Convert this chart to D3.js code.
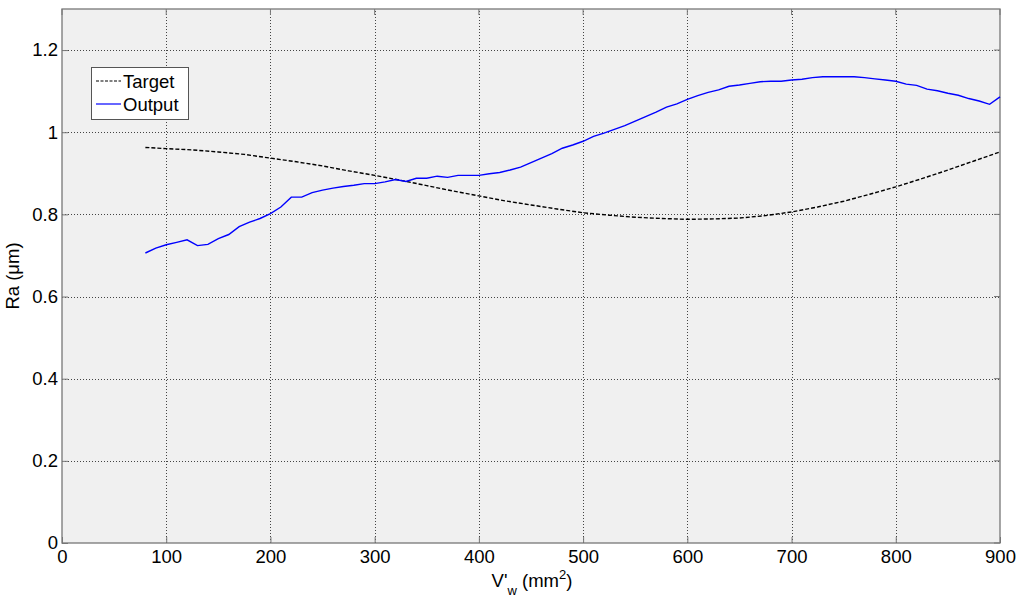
<!DOCTYPE html>
<html>
<head>
<meta charset="utf-8">
<script src="https://cdn.jsdelivr.net/npm/d3@7"></script>
<style>
  body { margin: 0; background: #fff; }
  text { font-family: "Liberation Sans", Arial, sans-serif; fill: #000; }
</style>
</head>
<body>
<div id="chart"></div>
<script>
// Data
const targetX = [80, 100, 125, 150, 175, 200, 225, 250, 275, 300, 325, 350, 375, 400, 425, 450, 475, 500,
  525, 550, 575, 600, 625, 650, 675, 700, 725, 750, 775, 800, 825, 850, 875, 900];
const targetY = [0.963, 0.960, 0.957, 0.952, 0.946, 0.937, 0.928, 0.918, 0.906, 0.895, 0.883, 0.870, 0.857,
  0.845, 0.833, 0.823, 0.813, 0.804, 0.798, 0.793, 0.790, 0.788, 0.789, 0.791, 0.797, 0.806, 0.818, 0.832,
  0.849, 0.867, 0.887, 0.908, 0.930, 0.952];

const outputX = d3.range(80, 901, 10);
const outputY = [0.706, 0.718, 0.726, 0.732, 0.738, 0.724, 0.727, 0.741, 0.751, 0.770, 0.781, 0.790, 0.802,
  0.818, 0.842, 0.842, 0.853, 0.859, 0.864, 0.868, 0.871, 0.875, 0.875, 0.879, 0.885, 0.880, 0.888, 0.888,
  0.893, 0.890, 0.895, 0.895, 0.895, 0.899, 0.902, 0.908, 0.915, 0.926, 0.937, 0.948, 0.961, 0.969, 0.978,
  0.990, 0.998, 1.007, 1.016, 1.027, 1.038, 1.049, 1.061, 1.069, 1.080, 1.089, 1.097, 1.103, 1.112, 1.115,
  1.119, 1.123, 1.124, 1.124, 1.127, 1.129, 1.133, 1.135, 1.135, 1.135, 1.135, 1.133, 1.130, 1.127, 1.124,
  1.117, 1.114, 1.105, 1.101, 1.095, 1.090, 1.082, 1.076, 1.068, 1.086];

const xTicks = [0, 100, 200, 300, 400, 500, 600, 700, 800, 900];
const yTicks = [0, 0.2, 0.4, 0.6, 0.8, 1, 1.2];
const seriesNames = ['Target', 'Output'];

const width = 1024, height = 608;
const margin = {top: 9, right: 24, bottom: 65, left: 62};
const fontSize = '18.5px';

const svg = d3.select('#chart').append('svg')
  .attr('width', width)
  .attr('height', height);

const x = d3.scaleLinear().domain([0, 900]).range([margin.left, width - margin.right]);
const y = d3.scaleLinear().domain([0, 1.3]).range([height - margin.bottom, margin.top]);

// Axes background
svg.append('rect')
  .attr('x', x(0)).attr('y', y(1.3))
  .attr('width', x(900) - x(0)).attr('height', y(0) - y(1.3))
  .attr('fill', '#f0f0f0');

// Grid
const grid = svg.append('g').attr('class', 'grid')
  .attr('stroke', '#444').attr('stroke-width', 1).attr('stroke-dasharray', '1,2');
grid.selectAll('.gx').data(xTicks.slice(1, -1)).join('line')
  .attr('x1', d => Math.round(x(d)) + 0.5).attr('x2', d => Math.round(x(d)) + 0.5)
  .attr('y1', y(0)).attr('y2', y(1.3));
grid.selectAll('.gy').data(yTicks.slice(1)).join('line')
  .attr('x1', x(0)).attr('x2', x(900))
  .attr('y1', d => Math.round(y(d)) + 0.5).attr('y2', d => Math.round(y(d)) + 0.5);

// Axes with inward ticks
const xAxis = svg.append('g')
  .attr('transform', `translate(0,${y(0)})`)
  .call(d3.axisBottom(x).tickValues(xTicks).tickSizeInner(-6).tickSizeOuter(0).tickPadding(7));
const yAxis = svg.append('g')
  .attr('transform', `translate(${x(0)},0)`)
  .call(d3.axisLeft(y).tickValues(yTicks).tickSizeInner(-6).tickSizeOuter(0).tickPadding(4)
    .tickFormat(d => d3.format('~g')(d)));
[xAxis, yAxis].forEach(a => {
  a.select('.domain').remove();
  a.selectAll('line').attr('stroke', '#777');
  a.selectAll('text').style('font-size', fontSize).attr('fill', '#000');
});
// ticks on top and right
svg.append('g').selectAll('line').data(xTicks).join('line')
  .attr('x1', d => x(d)).attr('x2', d => x(d))
  .attr('y1', y(1.3)).attr('y2', y(1.3) + 6).attr('stroke', '#777');
svg.append('g').selectAll('line').data(yTicks).join('line')
  .attr('x1', x(900)).attr('x2', x(900) - 6)
  .attr('y1', d => y(d)).attr('y2', d => y(d)).attr('stroke', '#777');

// Frame
svg.append('rect')
  .attr('x', x(0)).attr('y', y(1.3))
  .attr('width', x(900) - x(0)).attr('height', y(0) - y(1.3))
  .attr('fill', 'none').attr('stroke', '#777').attr('stroke-width', 1.3);

// Lines
const line = d3.line().x(d => x(d[0])).y(d => y(d[1]));
svg.append('path')
  .datum(d3.zip(targetX, targetY))
  .attr('fill', 'none').attr('stroke', '#000').attr('stroke-width', 1.4)
  .attr('stroke-dasharray', '4,2')
  .attr('d', line);
svg.append('path')
  .datum(d3.zip(outputX, outputY))
  .attr('fill', 'none').attr('stroke', '#0000ff').attr('stroke-width', 1.4)
  .attr('d', line);

// Legend
const legend = svg.append('g').attr('transform', 'translate(91,67)');
legend.append('rect')
  .attr('x', 0.5).attr('y', 0.5).attr('width', 97).attr('height', 52)
  .attr('fill', '#fff').attr('stroke', '#555').attr('stroke-width', 1);
const items = legend.selectAll('.item').data(seriesNames).join('g')
  .attr('transform', (d, i) => `translate(0,${14 + i * 23})`);
items.append('line')
  .attr('x1', 5).attr('x2', 30).attr('y1', 0).attr('y2', 0)
  .attr('stroke', (d, i) => i === 0 ? '#000' : '#0000ff')
  .attr('stroke-width', 1.2)
  .attr('stroke-dasharray', (d, i) => i === 0 ? '3,1.5' : null);
items.append('text')
  .attr('x', 32).attr('y', 0).attr('dy', '0.36em')
  .style('font-size', fontSize)
  .text(d => d);

// Axis labels
const xl = svg.append('text')
  .attr('x', 532).attr('y', 587)
  .attr('text-anchor', 'middle')
  .style('font-size', fontSize);
xl.append('tspan').text("V'");
xl.append('tspan').attr('dy', 8).style('font-size', '13px').text('w');
xl.append('tspan').attr('dy', -8).text(' (mm');
xl.append('tspan').attr('dy', -8).style('font-size', '13px').text('2');
xl.append('tspan').attr('dy', 8).text(')');

svg.append('text')
  .attr('transform', `translate(19,${(y(0) + y(1.3)) / 2}) rotate(-90)`)
  .attr('text-anchor', 'middle')
  .style('font-size', fontSize)
  .text('Ra (μm)');
</script>
</body>
</html>
